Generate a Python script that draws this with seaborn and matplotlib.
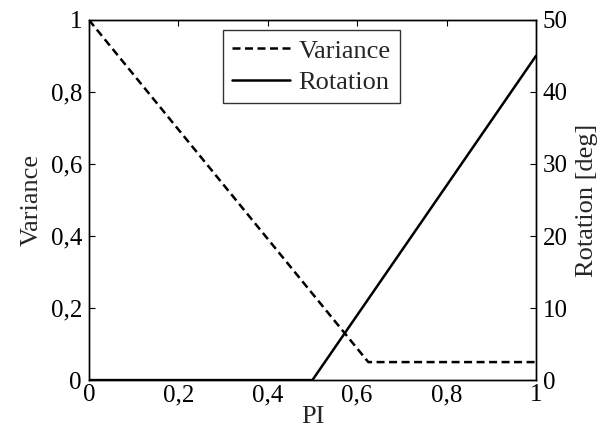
import numpy as np
import pandas as pd
import matplotlib
matplotlib.use('Agg')
import matplotlib.pyplot as plt
import matplotlib.ticker as mtick
import seaborn as sns

# data
pi_var = [0, 0.625, 1]
variance = [1, 0.05, 0.05]
pi_rot = [0, 0.5, 1]
rotation = [0, 0, 45]

sns.set_style('white')
plt.rcParams['font.family'] = ['Liberation Serif', 'DejaVu Serif']
plt.rcParams['font.size'] = 18
plt.rcParams['xtick.direction'] = 'in'
plt.rcParams['ytick.direction'] = 'in'

fig = plt.figure(figsize=(6.09, 4.43), dpi=100)
ax = fig.add_axes([0.146, 0.142, 0.734, 0.813])
ax2 = ax.twinx()

df_var = pd.DataFrame({'PI': pi_var, 'Variance': variance})
df_rot = pd.DataFrame({'PI': pi_rot, 'Rotation': rotation})

sns.lineplot(data=df_var, x='PI', y='Variance', ax=ax, color='black',
             linewidth=1.8, label='Variance', legend=False)
ax.lines[0].set_linestyle((0, (3.2, 1.8)))
sns.lineplot(data=df_rot, x='PI', y='Rotation', ax=ax2, color='black',
             linewidth=1.8, label='Rotation', legend=False)

ax.set_xlim(0, 1)
ax.set_ylim(0, 1)
ax2.set_ylim(0, 50)
ax.set_xticks(np.arange(0, 1.01, 0.2))
ax.set_yticks(np.arange(0, 1.01, 0.2))
ax2.set_yticks(np.arange(0, 51, 10))

# decimal comma
fmt = mtick.FuncFormatter(lambda v, p: ('%g' % round(v, 2)).replace('.', ','))
ax.xaxis.set_major_formatter(fmt)
ax.yaxis.set_major_formatter(fmt)

ax.set_xlabel('PI', fontsize=19, labelpad=0)
ax.set_ylabel('Variance', fontsize=19, labelpad=6)
ax2.set_ylabel('Rotation [deg]', fontsize=19, labelpad=6)

for a in (ax, ax2):
    for s in a.spines.values():
        s.set_color('black')
        s.set_linewidth(1)
ax.tick_params(axis='x', top=True, length=4, width=0.8, pad=3, colors='black')
ax.tick_params(axis='y', left=True, right=False, length=4, width=0.8, pad=5, colors='black')
ax2.tick_params(axis='y', right=True, length=4, width=0.8, pad=5, colors='black')

handles = ax.get_lines()[:1] + ax2.get_lines()[:1]
leg = ax.legend(handles, ['Variance', 'Rotation'], loc='upper left',
                bbox_to_anchor=(0.3, 0.972), frameon=True, fancybox=False,
                edgecolor='black', handlelength=2.2, borderpad=0.35,
                labelspacing=0.3, handletextpad=0.3, borderaxespad=0,
                fontsize=19)
leg.get_frame().set_linewidth(1)

plt.savefig('out.png', dpi=100)
